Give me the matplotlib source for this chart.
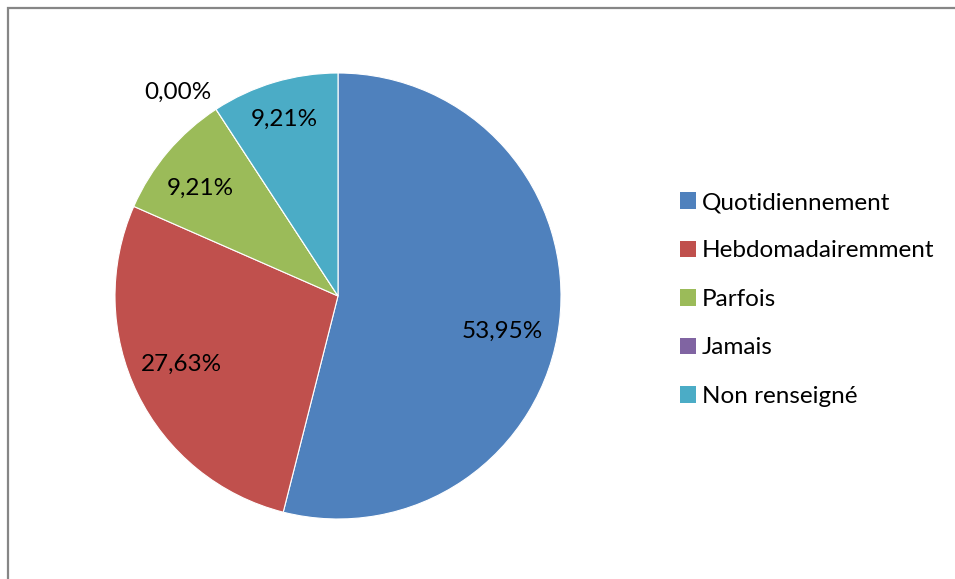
import matplotlib
matplotlib.use("Agg")
import matplotlib.pyplot as plt
import numpy as np
from matplotlib.patches import Rectangle, Patch

plt.rcParams['font.family'] = ['Lato', 'DejaVu Sans']

categories = ["Quotidiennement", "Hebdomadairemment", "Parfois", "Jamais", "Non renseigné"]
percents = [53.95, 27.63, 9.21, 0.00, 9.21]
colors = ["#4F81BD", "#C0504D", "#9BBB59", "#8064A2", "#4BACC6"]

# value label placement: distance from centre (radii) and angular nudge (deg)
label_dist = [0.752, 0.767, 0.786, 1.163, 0.826]
label_shift = [-4.9, -2.6, 2.2, 5.0, 0.4]

fig = plt.figure(figsize=(9.55, 5.79), dpi=100)
fig.patch.set_facecolor("white")

# grey chart-area frame (cropped on right and bottom)
fig.add_artist(Rectangle((8 / 955, -0.1), 1.2, (579 - 8) / 579 + 0.1,
                         transform=fig.transFigure, fill=False,
                         edgecolor="#868686", linewidth=1.6))

ax = fig.add_axes([115 / 955, 60 / 579, 446 / 955, 446 / 579])
wedges, _ = ax.pie(percents, colors=colors, startangle=90, counterclock=False,
                   radius=1, wedgeprops=dict(edgecolor="white", linewidth=0.8))
ax.set_xlim(-1, 1)
ax.set_ylim(-1, 1)
ax.axis("off")

for w, p, d, s in zip(wedges, percents, label_dist, label_shift):
    mid = np.deg2rad((w.theta1 + w.theta2) / 2 + s)
    ax.text(d * np.cos(mid), d * np.sin(mid), f"{p:.2f}%".replace(".", ","),
            ha="center", va="center", fontsize=17.5, color="black")

handles = [Patch(facecolor=c, edgecolor="none") for c in colors]
fig.legend(handles, categories, loc="upper left", bbox_to_anchor=(680 / 955, 1 - 192 / 579),
           frameon=False, fontsize=17.5, handlelength=0.66, handleheight=0.66,
           handletextpad=0.25, labelspacing=1.13, borderpad=0, borderaxespad=0)

plt.savefig("out.png", dpi=100)
